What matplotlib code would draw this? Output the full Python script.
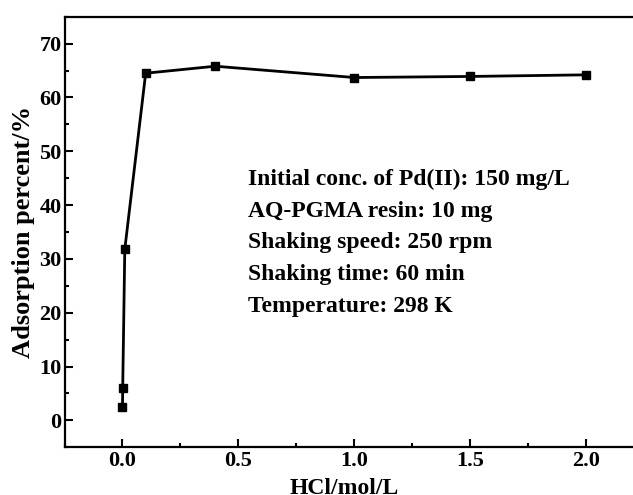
import matplotlib
matplotlib.use("Agg")
import matplotlib.pyplot as plt
from matplotlib.ticker import MultipleLocator

hcl_conc = [0.0, 0.001, 0.01, 0.1, 0.4, 1.0, 1.5, 2.0]
adsorption = [2.4, 6.1, 31.8, 64.5, 65.8, 63.7, 63.9, 64.2]
conditions = [
    "Initial conc. of Pd(II): 150 mg/L",
    "AQ-PGMA resin: 10 mg",
    "Shaking speed: 250 rpm",
    "Shaking time: 60 min",
    "Temperature: 298 K",
]
xticks = [0.0, 0.5, 1.0, 1.5, 2.0]
xticklabels = ["0.0", "0.5", "1.0", "1.5", "2.0"]
xlabel = "HCl/mol/L"
ylabel = "Adsorption percent/%"

plt.rcParams['font.family'] = ['Liberation Serif', 'DejaVu Serif']
plt.rcParams['font.weight'] = 'bold'

W, H = 633, 495
fig = plt.figure(figsize=(W / 100, H / 100), dpi=100)
ax = fig.add_axes([64.5 / W, (H - 447.3) / H, (644.3 - 64.5) / W, (447.3 - 16.7) / H])

ax.plot(hcl_conc, adsorption, color='black', linewidth=2.0, marker='s', markersize=6,
        markerfacecolor='black', markeredgecolor='black')

ax.set_xlim(-0.25, 2.25)
ax.set_ylim(-5, 75)
ax.xaxis.set_minor_locator(MultipleLocator(0.25))
ax.yaxis.set_major_locator(MultipleLocator(10))
ax.yaxis.set_minor_locator(MultipleLocator(5))
ax.set_xticks(xticks)
ax.set_xticklabels(xticklabels)

ax.tick_params(which='both', direction='in', top=False, right=False, width=1.5)
ax.tick_params(which='major', length=5.5, labelsize=16, pad=2)
ax.tick_params(axis='x', which='major', pad=3)
ax.tick_params(which='minor', length=3)
for lbl in ax.get_xticklabels() + ax.get_yticklabels():
    lbl.set_fontweight('bold')

for s in ax.spines.values():
    s.set_linewidth(1.6)

fig.text(344 / W, 1 - 494 / H, xlabel, fontsize=17, fontweight='bold',
         ha='center', va='baseline')
fig.text(30 / W, 1 - 231.5 / H, ylabel, fontsize=19, fontweight='bold',
         rotation=90, rotation_mode='anchor', ha='center', va='baseline')

y0 = 185
for i, t in enumerate(conditions):
    fig.text(248 / W, 1 - (y0 + 31.7 * i) / H, t, fontsize=17, fontweight='bold',
             ha='left', va='baseline')

fig.savefig("out.png", dpi=100)
